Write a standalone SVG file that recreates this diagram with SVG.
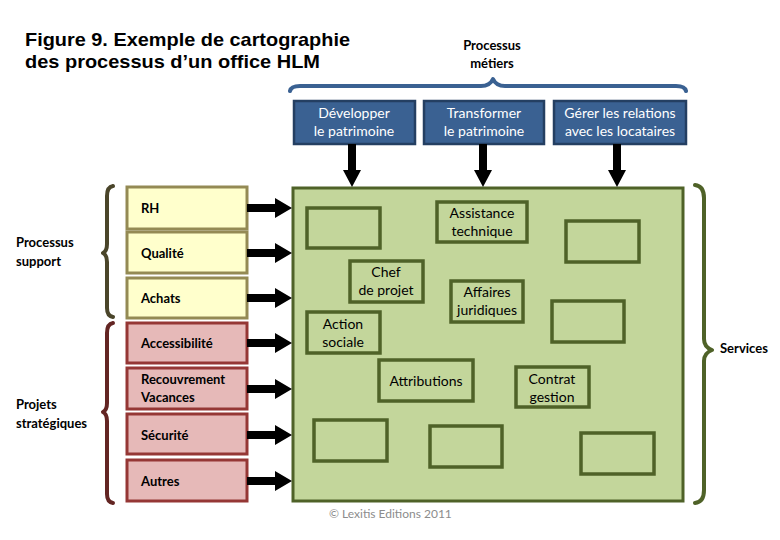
<svg xmlns="http://www.w3.org/2000/svg" xmlns:xlink="http://www.w3.org/1999/xlink" width="780" height="540" viewBox="0 0 780 540">
  <defs>
    <path id="arrR" d="M0,-4 L28,-4 L28,-10 L45,0 L28,10 L28,4 L0,4 Z" fill="#000"/>
    <path id="arrD" d="M-4,0 L-4,26 L-9,26 L0,43 L9,26 L4,26 L4,0 Z" fill="#000"/>
    <style>
      .title{font-family:"Liberation Sans",Arial,sans-serif;font-weight:bold;font-size:19px;fill:#000}
      .lbl{font-family:Lato,"Liberation Sans",sans-serif;font-weight:bold;font-size:13px;fill:#000}
      .blue{fill:#3A6192;stroke:#243F62;stroke-width:2.5}
      .btxt{font-family:Lato,"Liberation Sans",sans-serif;font-size:14px;fill:#fff;text-anchor:middle}
      .yel{fill:#FFFFCC;stroke:#948A54;stroke-width:3}
      .pink{fill:#E6B9B8;stroke:#953735;stroke-width:3}
      .ltxt{font-family:Lato,"Liberation Sans",sans-serif;font-weight:bold;font-size:13px;fill:#000}
      .green{fill:#C3D69B;stroke:#4F6228;stroke-width:3}
      .gbox{fill:none;stroke:#4F6228;stroke-width:3.5}
      .gtxt{font-family:Lato,"Liberation Sans",sans-serif;font-size:14px;fill:#000;text-anchor:middle}
      .brace{fill:none;stroke-width:4;stroke-linecap:round;stroke-linejoin:round}
      .copy{font-family:Lato,"Liberation Sans",sans-serif;font-size:12px;fill:#8C8C8C}
    </style>
  </defs>
  <rect width="780" height="540" fill="#fff"/>

  <g id="title">
    <text class="title" x="25" y="46" textLength="325" lengthAdjust="spacingAndGlyphs">Figure 9. Exemple de cartographie</text>
    <text class="title" x="25" y="68" textLength="295" lengthAdjust="spacingAndGlyphs">des processus d’un office HLM</text>
  </g>

  <g id="metiers-label">
    <text class="lbl" x="492" y="50" text-anchor="middle">Processus</text>
    <text class="lbl" x="492" y="68" text-anchor="middle">métiers</text>
    <path class="brace" stroke="#3A6192" d="M290,91 Q291,86 300,86 L481,86 Q490,86 493,79 Q496,86 505,86 L676,86 Q685,86 686,91"/>
  </g>

  <g id="node-developper">
    <rect class="blue" x="294" y="101" width="121" height="43"/>
    <text class="btxt" x="354" y="118">Développer</text>
    <text class="btxt" x="354" y="136">le patrimoine</text>
  </g>
  <g id="node-transformer">
    <rect class="blue" x="424" y="101" width="120" height="43"/>
    <text class="btxt" x="484" y="118">Transformer</text>
    <text class="btxt" x="484" y="136">le patrimoine</text>
  </g>
  <g id="node-gerer">
    <rect class="blue" x="554" y="101" width="132" height="43"/>
    <text class="btxt" x="620" y="118">Gérer les relations</text>
    <text class="btxt" x="620" y="136">avec les locataires</text>
  </g>

  <g id="support-label">
    <text class="lbl" x="16" y="247">Processus</text>
    <text class="lbl" x="16" y="266">support</text>
    <path class="brace" stroke="#4A452A" d="M113,186 Q107,187 107,196 L107,244 Q107,251 103,253 Q107,255 107,262 L107,308 Q107,316 113,317"/>
  </g>
  <g id="projets-label">
    <text class="lbl" x="16" y="409">Projets</text>
    <text class="lbl" x="16" y="428">stratégiques</text>
    <path class="brace" stroke="#632523" d="M113,323 Q107,324 107,333 L107,403 Q107,410 103,412 Q107,414 107,421 L107,494 Q107,502 113,503"/>
  </g>

  <g id="node-rh"><rect class="yel" x="127" y="187" width="120" height="42"/><text class="ltxt" x="141" y="213">RH</text></g>
  <g id="node-qualite"><rect class="yel" x="127" y="232" width="120" height="41"/><text class="ltxt" x="141" y="258">Qualité</text></g>
  <g id="node-achats"><rect class="yel" x="127" y="278" width="120" height="40"/><text class="ltxt" x="141" y="303">Achats</text></g>
  <g id="node-accessibilite"><rect class="pink" x="127" y="323" width="120" height="40"/><text class="ltxt" x="141" y="348">Accessibilité</text></g>
  <g id="node-recouvrement"><rect class="pink" x="127" y="368" width="120" height="41"/><text class="ltxt" x="141" y="384">Recouvrement</text><text class="ltxt" x="141" y="402">Vacances</text></g>
  <g id="node-securite"><rect class="pink" x="127" y="414" width="120" height="40"/><text class="ltxt" x="141" y="440">Sécurité</text></g>
  <g id="node-autres"><rect class="pink" x="127" y="460" width="120" height="41"/><text class="ltxt" x="141" y="486">Autres</text></g>

  <g id="node-services">
    <rect class="green" x="293" y="188" width="390" height="313"/>
    <rect class="gbox" x="307" y="208" width="73" height="40"/>
    <rect class="gbox" x="437" y="202" width="90" height="40"/>
    <text class="gtxt" x="482" y="218">Assistance</text>
    <text class="gtxt" x="482" y="236">technique</text>
    <rect class="gbox" x="566" y="221" width="73" height="41"/>
    <rect class="gbox" x="350" y="261" width="73" height="41"/>
    <text class="gtxt" x="386" y="277">Chef</text>
    <text class="gtxt" x="386" y="295">de projet</text>
    <rect class="gbox" x="451" y="281" width="72" height="41"/>
    <text class="gtxt" x="487" y="297">Affaires</text>
    <text class="gtxt" x="487" y="315">juridiques</text>
    <rect class="gbox" x="552" y="301" width="72" height="41"/>
    <rect class="gbox" x="307" y="312" width="73" height="41"/>
    <text class="gtxt" x="343" y="329">Action</text>
    <text class="gtxt" x="343" y="347">sociale</text>
    <rect class="gbox" x="379" y="360" width="94" height="41"/>
    <text class="gtxt" x="426" y="386">Attributions</text>
    <rect class="gbox" x="516" y="367" width="73" height="40"/>
    <text class="gtxt" x="552" y="384">Contrat</text>
    <text class="gtxt" x="552" y="402">gestion</text>
    <rect class="gbox" x="314" y="420" width="73" height="41"/>
    <rect class="gbox" x="430" y="426" width="72" height="41"/>
    <rect class="gbox" x="581" y="433" width="73" height="41"/>
  </g>

  <g id="services-label">
    <path class="brace" stroke="#4F6228" d="M695,185 Q704,186 704,198 L704,339 Q704,347 712,350 Q704,353 704,361 L704,490 Q704,502 695,503"/>
    <text class="lbl" x="720" y="353">Services</text>
  </g>

  <g id="connectors">
    <use xlink:href="#arrD" x="352" y="144"/>
    <use xlink:href="#arrD" x="483" y="144"/>
    <use xlink:href="#arrD" x="617" y="144"/>
    <use xlink:href="#arrR" x="247" y="208"/>
    <use xlink:href="#arrR" x="247" y="253"/>
    <use xlink:href="#arrR" x="247" y="298"/>
    <use xlink:href="#arrR" x="247" y="343"/>
    <use xlink:href="#arrR" x="247" y="389"/>
    <use xlink:href="#arrR" x="247" y="435"/>
    <use xlink:href="#arrR" x="247" y="481"/>
  </g>

  <text class="copy" x="329" y="518">© Lexitis Editions 2011</text>
</svg>
